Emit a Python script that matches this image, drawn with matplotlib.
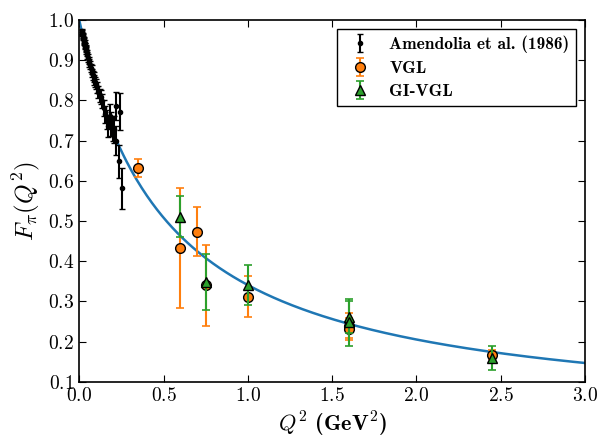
import numpy as np
import matplotlib
matplotlib.use("Agg")
import matplotlib.pyplot as plt

plt.rcParams["font.family"] = ["cmr10", "DejaVu Serif"]
plt.rcParams["mathtext.fontset"] = "cm"
plt.rcParams["axes.formatter.use_mathtext"] = True

# Amendolia et al. (1986)
amd_q2 = [0.015, 0.017, 0.019, 0.021, 0.023, 0.025, 0.027, 0.029, 0.031, 0.033,
          0.035, 0.037, 0.039, 0.041, 0.043, 0.046, 0.049, 0.053, 0.057, 0.061,
          0.065, 0.069, 0.073, 0.077, 0.081, 0.085, 0.089, 0.093, 0.097, 0.105,
          0.113, 0.121, 0.129, 0.137, 0.145, 0.153, 0.162, 0.171, 0.180, 0.189,
          0.198, 0.207, 0.216, 0.221, 0.234, 0.243, 0.253]
amd_f = [0.972, 0.968, 0.965, 0.962, 0.958, 0.955, 0.950, 0.948, 0.944, 0.942,
         0.936, 0.935, 0.930, 0.927, 0.924, 0.918, 0.912, 0.905, 0.898, 0.892,
         0.887, 0.880, 0.876, 0.868, 0.862, 0.858, 0.850, 0.846, 0.840, 0.832,
         0.820, 0.812, 0.808, 0.798, 0.780, 0.765, 0.752, 0.735, 0.762, 0.742,
         0.730, 0.728, 0.786, 0.700, 0.648, 0.772, 0.581]
amd_err = [0.006, 0.006, 0.006, 0.006, 0.006, 0.006, 0.007, 0.007, 0.007, 0.007,
           0.007, 0.007, 0.008, 0.008, 0.008, 0.008, 0.009, 0.009, 0.009, 0.010,
           0.010, 0.010, 0.011, 0.011, 0.012, 0.012, 0.012, 0.013, 0.013, 0.014,
           0.015, 0.016, 0.017, 0.018, 0.020, 0.022, 0.024, 0.026, 0.028, 0.030,
           0.032, 0.033, 0.035, 0.037, 0.040, 0.045, 0.050]

# VGL
vgl_q2 = [0.35, 0.60, 0.70, 0.75, 1.00, 1.60, 1.60, 2.45]
vgl_f = [0.632, 0.433, 0.473, 0.340, 0.312, 0.240, 0.232, 0.168]
vgl_err = [0.022, 0.150, 0.061, 0.100, 0.051, 0.032, 0.028, 0.012]

# GI-VGL
gi_q2 = [0.60, 0.75, 1.00, 1.60, 1.60, 2.45]
gi_f = [0.511, 0.349, 0.341, 0.262, 0.248, 0.160]
gi_err = [0.050, 0.070, 0.050, 0.040, 0.058, 0.030]

# monopole fit, mass squared (GeV^2)
m2 = 0.517
q2_line = np.linspace(0, 3.0, 300)
f_line = 1.0 / (1.0 + q2_line / m2)

fig = plt.figure(figsize=(6.0, 4.41), dpi=100)
ax = fig.add_axes([0.132, 0.134, 0.843, 0.821])

ax.plot(q2_line, f_line, color="#1f77b4", linewidth=1.8, zorder=2)
ax.errorbar(amd_q2, amd_f, yerr=amd_err, fmt="o", color="black", markersize=3,
            elinewidth=1.5, capsize=2.5, capthick=1.0, label="Amendolia et al. (1986)", zorder=3)
ax.errorbar(vgl_q2, vgl_f, yerr=vgl_err, fmt="o", color="#ff7f0e", mfc="#ff7f0e",
            mec="black", markersize=7, elinewidth=1.5, capsize=3, capthick=1.2,
            label="VGL", zorder=4)
ax.errorbar(gi_q2, gi_f, yerr=gi_err, fmt="^", color="#2ca02c", mfc="#2ca02c",
            mec="black", markersize=7, elinewidth=1.5, capsize=3, capthick=1.2,
            label="GI-VGL", zorder=5)

ax.set_xlim(0, 3.0)
ax.set_ylim(0.1, 1.0)
ax.set_xticks(np.arange(0, 3.01, 0.5))
ax.set_yticks(np.arange(0.1, 1.01, 0.1))
ax.tick_params(direction="in", top=True, right=True, labelsize=14, length=5)
for s in ax.spines.values():
    s.set_linewidth(1.2)

ax.set_xlabel(r"$Q^2$ (GeV$^2$)", fontsize=16, fontfamily="cmb10")
ax.set_ylabel(r"$F_\pi(Q^2)$", fontsize=18)

leg = ax.legend(loc="upper right", fancybox=False, edgecolor="black", framealpha=1,
                prop={"family": "cmb10", "size": 12.5}, handlelength=1.8,
                borderaxespad=0.5, labelspacing=0.45)
leg.get_frame().set_linewidth(1.0)

fig.savefig("out.png", dpi=100)
